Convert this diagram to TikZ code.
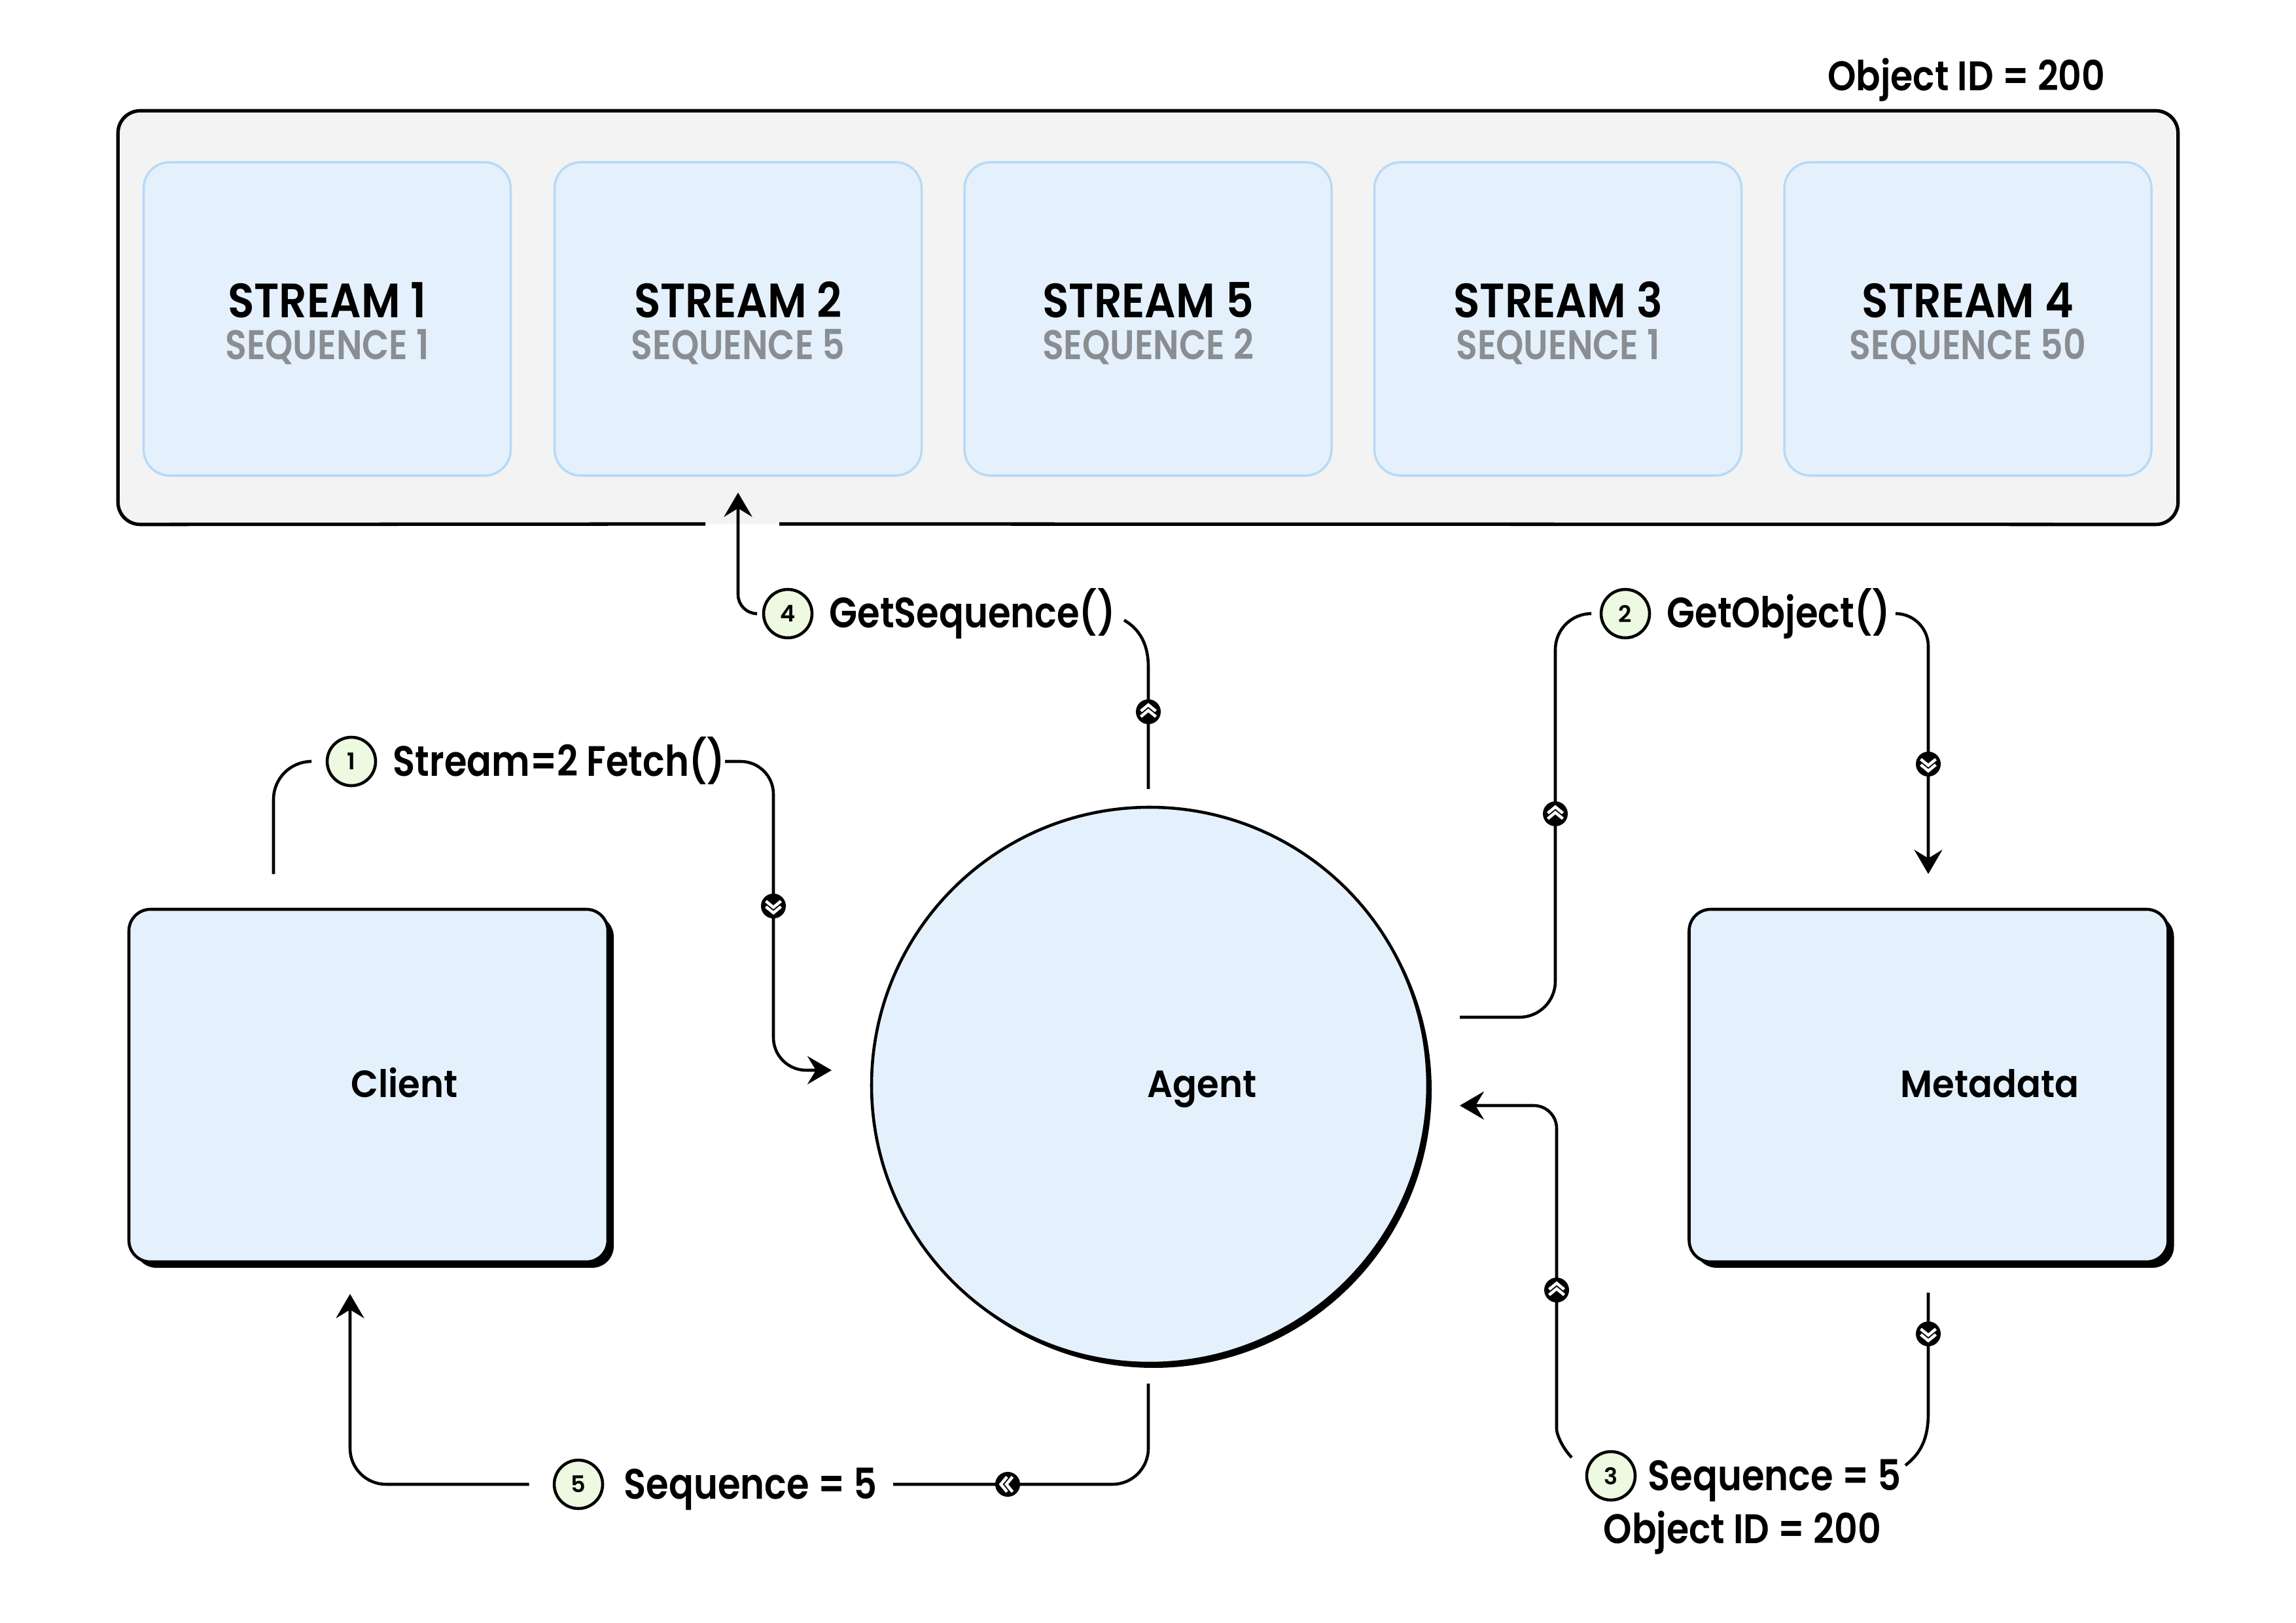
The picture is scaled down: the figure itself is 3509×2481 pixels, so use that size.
\documentclass[tikz,border=0pt]{standalone}
\usepackage{fontspec}
\setmainfont{Poppins}[BoldFont={* SemiBold}]
\usetikzlibrary{shadows,arrows.meta}
\definecolor{contfill}{HTML}{F3F3F3}
\definecolor{boxfill}{HTML}{E4F1FD}
\definecolor{boxline}{HTML}{B7DAF6}
\definecolor{numfill}{HTML}{EEF9E2}
\definecolor{seqgray}{HTML}{8A8D91}
\newcommand{\chevmark}[3]{%
  \node[mk] (#1) at (#2) {};
  \draw[chev,shift={(#1.center)},rotate=#3] (-1.15mm,0.1mm) -- (0mm,1.05mm) -- (1.15mm,0.1mm);
  \draw[chev,shift={(#1.center)},rotate=#3] (-1.15mm,-0.75mm) -- (0mm,0.2mm) -- (1.15mm,-0.75mm);
}
\begin{document}
\begin{tikzpicture}[x=0.1mm,y=-0.1mm,
  conn/.style={line width=1.3pt},
  arr/.style={conn,-{Stealth[length=3.7mm,width=4.3mm,inset=1.3mm]}},
  numc/.style={circle,draw,line width=1.3pt,fill=numfill,minimum size=7.4mm,inner sep=0pt,
    font=\bfseries\fontsize{10}{12}\selectfont},
  lbl/.style={anchor=base west,inner sep=0pt,
    font=\bfseries\fontsize{18.5}{22}\selectfont\addfontfeature{FakeStretch=0.86}},
  objlbl/.style={inner sep=0pt,
    font=\bfseries\fontsize{18}{22}\selectfont\addfontfeature{FakeStretch=0.875}},
  boxlbl/.style={anchor=base,inner sep=0pt,
    font=\bfseries\fontsize{16.5}{20}\selectfont\addfontfeature{FakeStretch=0.94}},
  sttl/.style={anchor=base,inner sep=0pt,
    font=\bfseries\fontsize{21}{24}\selectfont\addfontfeature{FakeStretch=0.9}},
  sseq/.style={anchor=base,inner sep=0pt,text=seqgray,
    font=\bfseries\fontsize{18}{21}\selectfont\addfontfeature{FakeStretch=0.85}},
  streambox/.style={rounded corners=4mm,draw=boxline,line width=1pt,fill=boxfill,
    minimum width=56.1mm,minimum height=47.9mm},
  bigbox/.style={rounded corners=3.3mm,draw,line width=1.3pt,fill=boxfill,
    minimum width=73.2mm,minimum height=53.9mm,
    drop shadow={shadow xshift=0.9mm,shadow yshift=-0.9mm,fill=black,opacity=1}},
  agentc/.style={circle,draw,line width=1.3pt,fill=boxfill,minimum size=85mm,inner sep=0pt,
    drop shadow={shadow xshift=0.6mm,shadow yshift=-0.7mm,fill=black,opacity=1}},
  mk/.style={circle,fill=black,minimum size=3.8mm,inner sep=0pt},
  chev/.style={white,line width=0.45mm},
]
\useasboundingbox (0,0) rectangle (3509,2481);
\fill[white] (0,0) rectangle (3509,2481);

% container of streams
\node[fill=contfill,rounded corners=3.4mm,minimum width=314.7mm,minimum height=63.1mm,inner sep=0pt]
  (cont) at (1754.5,485.5) {};
\draw[line width=1.5pt,rounded corners=3.4mm] (1191,801) -- (cont.south east) -- (cont.north east)
  -- (cont.north west) -- (cont.south west) -- (1078,801);
\node[objlbl,anchor=base east] (objtop) at (3218,139) {Object ID = 200};

\node[streambox] (s1) at (500,487.5) {};
\node[streambox] (s2) at (1128,487.5) {};
\node[streambox] (s3) at (1754.5,487.5) {};
\node[streambox] (s4) at (2381,487.5) {};
\node[streambox] (s5) at (3007.5,487.5) {};
\node[sttl] (s1t) at (500,486) {STREAM 1};
\node[sseq] (s1q) at (500,550) {SEQUENCE 1};
\node[sttl] (s2t) at (1128,486) {STREAM 2};
\node[sseq] (s2q) at (1128,550) {SEQUENCE 5};
\node[sttl] (s3t) at (1754.5,486) {STREAM 5};
\node[sseq] (s3q) at (1754.5,550) {SEQUENCE 2};
\node[sttl] (s4t) at (2381,486) {STREAM 3};
\node[sseq] (s4q) at (2381,550) {SEQUENCE 1};
\node[sttl] (s5t) at (3007.5,486) {STREAM 4};
\node[sseq] (s5q) at (3007.5,550) {SEQUENCE 50};

% main nodes
\node[bigbox] (client) at (563,1659.5) {};
\node[agentc] (agent) at (1757,1659) {};
\node[bigbox] (meta) at (2947.5,1659.5) {};
\node[boxlbl] (clientt) at (618,1677) {Client};
\node[boxlbl] (agentt) at (1837,1677) {Agent};
\node[boxlbl] (metat) at (3041,1677) {Metadata};

% 1: client -> agent
\coordinate (c1s) at (418,1336);
\coordinate (c1e) at (1271,1636);
\node[numc] (n1) at (537,1164) {1};
\node[lbl] (t1) at (600,1186) {Stream=2 Fetch()};
\draw[conn,rounded corners=5.8mm] (c1s) |- ([xshift=-2.5mm]n1.west);
\draw[arr,rounded corners=5mm] (1108,1164) -- (1182,1164) -- (1182,1636) -- (c1e);
\chevmark{m1}{1182,1385}{180}

% 2: agent -> metadata
\coordinate (c2s) at (2231,1555);
\coordinate (c2e) at (2947,1336);
\node[numc] (n2) at (2484,938) {2};
\node[lbl] (t2) at (2547,960) {GetObject()};
\draw[conn,rounded corners=5.5mm] (c2s) -| (2377,938) -- ([xshift=-1.6mm]n2.west);
\draw[arr,rounded corners=5mm] (2900,938) -| (c2e);
\chevmark{m2a}{2377,1244}{0}
\chevmark{m2b}{2947,1168}{180}

% 3: metadata -> agent
\coordinate (c3s) at (2947,1976);
\coordinate (c3e) at (2231,1690);
\node[numc] (n3) at (2462,2256) {3};
\node[lbl] (t3) at (2518,2278) {Sequence = 5};
\node[objlbl,anchor=base] (t3b) at (2663,2359) {Object ID = 200};
\draw[conn] (c3s) -- (2947,2160) .. controls (2947,2200) and (2935,2222) .. (2912,2240);
\draw[arr,rounded corners=3.5mm] (2402,2228) .. controls (2385,2210) and (2379,2190) .. (2379,2150)
  -- (2379,1690) -- (c3e);
\chevmark{m3a}{2379,1972}{0}
\chevmark{m3b}{2947,2039}{180}

% 4: agent -> streams
\coordinate (c4s) at (1755,1206);
\coordinate (c4e) at (1128,753);
\node[numc] (n4) at (1204,938) {4};
\node[lbl] (t4) at (1267,960) {GetSequence()};
\draw[conn] (c4s) -- (1755,1020) .. controls (1755,985) and (1742,962) .. (1718,948);
\draw[arr,rounded corners=2.9mm] ([xshift=-1.1mm]n4.west) -| (c4e);
\chevmark{m4}{1755,1088}{0}

% 5: agent -> client
\coordinate (c5s) at (1755,2115);
\coordinate (c5e) at (535,1978);
\node[numc] (n5) at (884,2269) {5};
\node[lbl] (t5) at (953,2291) {Sequence = 5};
\draw[conn,rounded corners=5.5mm] (c5s) |- (1365,2269);
\draw[arr,rounded corners=5.5mm] ([xshift=-3.6mm]n5.west) -| (c5e);
\chevmark{m5}{1540,2269}{90}
\end{tikzpicture}
\end{document}
